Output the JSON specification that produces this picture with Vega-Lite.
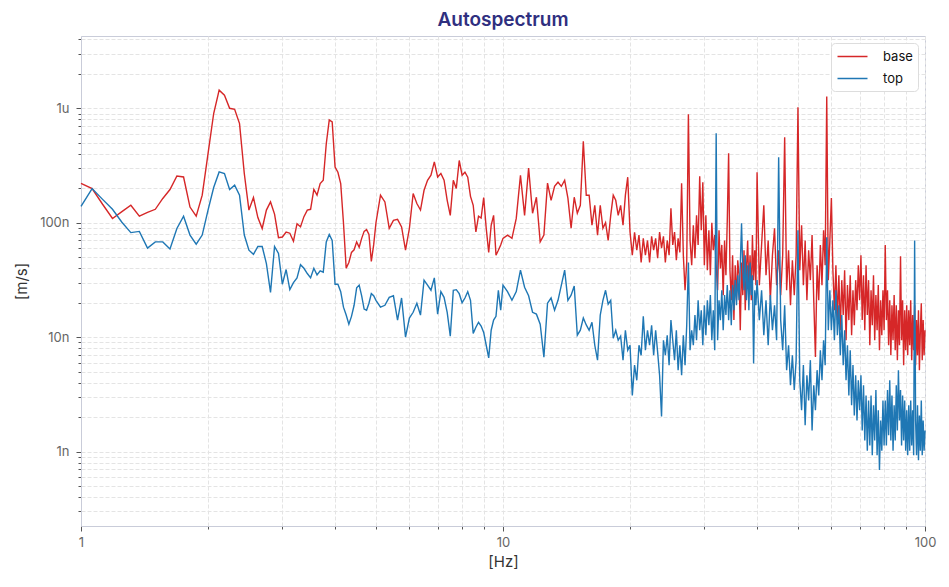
{
"$schema":"https://vega.github.io/schema/vega-lite/v6.json",
"width":844,"height":490,
"autosize":{"type":"none"},
"padding":{"left":81,"top":36,"right":24,"bottom":61},
"background":"white",
"config":{"view":{"stroke":"#c9ccd9","strokeWidth":1},"font":"Inter"},
"title":{"text":"Autospectrum","fontSize":19,"font":"Inter","fontWeight":600,"color":"#2f2f7f","offset":3,"anchor":"middle"},
"data":{"values":[
{"f":1,"base":2.21e-7,"top":1.39e-7},
{"f":1.0625,"base":1.99e-7,"top":1.99e-7},
{"f":1.125,"base":1.45e-7,"top":1.6e-7},
{"f":1.1875,"base":1.09e-7,"top":1.31e-7},
{"f":1.25,"base":1.25e-7,"top":1.01e-7},
{"f":1.3125,"base":1.42e-7,"top":8.2e-8},
{"f":1.375,"base":1.14e-7,"top":8.4e-8},
{"f":1.4375,"base":1.23e-7,"top":6.0e-8},
{"f":1.5,"base":1.31e-7,"top":6.8e-8},
{"f":1.5625,"base":1.63e-7,"top":6.8e-8},
{"f":1.625,"base":1.95e-7,"top":5.9e-8},
{"f":1.6875,"base":2.56e-7,"top":8.9e-8},
{"f":1.75,"base":2.51e-7,"top":1.14e-7},
{"f":1.8125,"base":1.37e-7,"top":7.8e-8},
{"f":1.875,"base":1.14e-7,"top":6.5e-8},
{"f":1.9375,"base":1.74e-7,"top":7.8e-8},
{"f":2,"base":4.02e-7,"top":1.29e-7},
{"f":2.0625,"base":9.0e-7,"top":2.03e-7},
{"f":2.125,"base":1.44e-6,"top":2.78e-7},
{"f":2.1875,"base":1.30e-6,"top":2.69e-7},
{"f":2.25,"base":1.0e-6,"top":1.95e-7},
{"f":2.3125,"base":9.8e-7,"top":2.13e-7},
{"f":2.375,"base":7.35e-7,"top":1.74e-7},
{"f":2.4375,"base":2.69e-7,"top":7.8e-8},
{"f":2.5,"base":1.29e-7,"top":5.75e-8},
{"f":2.5625,"base":1.66e-7,"top":5.3e-8},
{"f":2.625,"base":1.11e-7,"top":6.2e-8},
{"f":2.6875,"base":8.9e-8,"top":6.2e-8},
{"f":2.75,"base":1.29e-7,"top":4.4e-8},
{"f":2.8125,"base":1.52e-7,"top":2.46e-8},
{"f":2.875,"base":1.19e-7,"top":6.2e-8},
{"f":2.9375,"base":7.4e-8,"top":5.4e-8},
{"f":3,"base":7.5e-8,"top":2.9e-8},
{"f":3.0625,"base":8.3e-8,"top":3.9e-8},
{"f":3.125,"base":8.1e-8,"top":2.6e-8},
{"f":3.1875,"base":6.9e-8,"top":3.0e-8},
{"f":3.25,"base":9.8e-8,"top":3.3e-8},
{"f":3.3125,"base":9.2e-8,"top":4.3e-8},
{"f":3.375,"base":1.13e-7,"top":4.0e-8},
{"f":3.4375,"base":1.29e-7,"top":3.6e-8},
{"f":3.5,"base":1.31e-7,"top":3.3e-8},
{"f":3.5625,"base":1.96e-7,"top":4.0e-8},
{"f":3.625,"base":1.74e-7,"top":3.5e-8},
{"f":3.6875,"base":2.2e-7,"top":3.8e-8},
{"f":3.75,"base":2.35e-7,"top":3.7e-8},
{"f":3.8125,"base":4.9e-7,"top":6.8e-8},
{"f":3.875,"base":7.9e-7,"top":7.9e-8},
{"f":3.9375,"base":7.6e-7,"top":7.0e-8},
{"f":4,"base":3.07e-7,"top":2.9e-8},
{"f":4.0625,"base":2.76e-7,"top":2.9e-8},
{"f":4.125,"base":2.2e-7,"top":2.5e-8},
{"f":4.1875,"base":1.0e-7,"top":1.83e-8},
{"f":4.25,"base":4.0e-8,"top":1.56e-8},
{"f":4.3125,"base":4.5e-8,"top":1.3e-8},
{"f":4.375,"base":5.5e-8,"top":1.52e-8},
{"f":4.4375,"base":5.8e-8,"top":1.9e-8},
{"f":4.5,"base":6.8e-8,"top":2.7e-8},
{"f":4.5625,"base":6.1e-8,"top":2.85e-8},
{"f":4.625,"base":7.3e-8,"top":2.3e-8},
{"f":4.6875,"base":8.4e-8,"top":1.76e-8},
{"f":4.75,"base":8.7e-8,"top":1.72e-8},
{"f":4.8125,"base":7.9e-8,"top":1.98e-8},
{"f":4.875,"base":4.6e-8,"top":2.4e-8},
{"f":4.9375,"base":6.4e-8,"top":2.3e-8},
{"f":5,"base":1.0e-7,"top":2.1e-8},
{"f":5.125,"base":1.74e-7,"top":1.83e-8},
{"f":5.25,"base":1.52e-7,"top":1.9e-8},
{"f":5.375,"base":8.95e-8,"top":2.23e-8},
{"f":5.5,"base":1.05e-7,"top":2.3e-8},
{"f":5.625,"base":1.07e-7,"top":1.41e-8},
{"f":5.75,"base":9.2e-8,"top":2.2e-8},
{"f":5.875,"base":5.75e-8,"top":1.0e-8},
{"f":6,"base":8.9e-8,"top":1.47e-8},
{"f":6.125,"base":1.8e-7,"top":1.65e-8},
{"f":6.25,"base":1.47e-7,"top":1.98e-8},
{"f":6.375,"base":1.29e-7,"top":1.56e-8},
{"f":6.5,"base":1.92e-7,"top":3.15e-8},
{"f":6.625,"base":2.35e-7,"top":2.85e-8},
{"f":6.75,"base":2.6e-7,"top":2.57e-8},
{"f":6.875,"base":3.4e-7,"top":3.3e-8},
{"f":7,"base":2.51e-7,"top":1.59e-8},
{"f":7.125,"base":2.69e-7,"top":2.5e-8},
{"f":7.25,"base":2.35e-7,"top":2.23e-8},
{"f":7.375,"base":1.57e-7,"top":1.65e-8},
{"f":7.5,"base":1.16e-7,"top":1.02e-8},
{"f":7.625,"base":2.35e-7,"top":2.57e-8},
{"f":7.75,"base":1.99e-7,"top":2.6e-8},
{"f":7.875,"base":3.5e-7,"top":2.4e-8},
{"f":8,"base":2.6e-7,"top":2.0e-8},
{"f":8.125,"base":2.76e-7,"top":2.2e-8},
{"f":8.25,"base":2.5e-7,"top":2.5e-8},
{"f":8.375,"base":1.7e-7,"top":2.1e-8},
{"f":8.5,"base":1.42e-7,"top":1.08e-8},
{"f":8.625,"base":8.3e-8,"top":1.22e-8},
{"f":8.75,"base":1.14e-7,"top":1.35e-8},
{"f":8.875,"base":1.1e-7,"top":1.25e-8},
{"f":9,"base":1.66e-7,"top":1.1e-8},
{"f":9.125,"base":8.95e-8,"top":8.5e-9},
{"f":9.25,"base":5.5e-8,"top":6.6e-9},
{"f":9.375,"base":9.5e-8,"top":1.15e-8},
{"f":9.5,"base":1.16e-7,"top":1.41e-8},
{"f":9.625,"base":5.2e-8,"top":1.52e-8},
{"f":9.75,"base":5.75e-8,"top":2.57e-8},
{"f":9.875,"base":6.4e-8,"top":1.72e-8},
{"f":10,"base":7.3e-8,"top":2.85e-8},
{"f":10.25,"base":7.8e-8,"top":2.5e-8},
{"f":10.5,"base":7.3e-8,"top":2.1e-8},
{"f":10.75,"base":1.09e-7,"top":2.5e-8},
{"f":11,"base":2.6e-7,"top":3.85e-8},
{"f":11.25,"base":1.16e-7,"top":2.73e-8},
{"f":11.5,"base":3.0e-7,"top":2.3e-8},
{"f":11.75,"base":1.21e-7,"top":1.65e-8},
{"f":12,"base":1.67e-7,"top":1.59e-8},
{"f":12.25,"base":6.8e-8,"top":1.3e-8},
{"f":12.5,"base":7.8e-8,"top":6.7e-9},
{"f":12.75,"base":2.22e-7,"top":1.98e-8},
{"f":13,"base":1.57e-7,"top":2.2e-8},
{"f":13.25,"base":2.08e-7,"top":1.72e-8},
{"f":13.5,"base":2.26e-7,"top":2.1e-8},
{"f":13.75,"base":2.08e-7,"top":2.85e-8},
{"f":14,"base":2.35e-7,"top":3.85e-8},
{"f":14.25,"base":1.64e-7,"top":2.1e-8},
{"f":14.5,"base":8.95e-8,"top":2.33e-8},
{"f":14.75,"base":1.67e-7,"top":2.8e-8},
{"f":15,"base":1.21e-7,"top":1.04e-8},
{"f":15.25,"base":1.42e-7,"top":1.15e-8},
{"f":15.5,"base":5.15e-7,"top":1.47e-8},
{"f":15.75,"base":1.74e-7,"top":1.28e-8},
{"f":16,"base":1.74e-7,"top":1.15e-8},
{"f":16.25,"base":9.5e-8,"top":1.35e-8},
{"f":16.5,"base":1.42e-7,"top":8.5e-9},
{"f":16.75,"base":7.8e-8,"top":6.3e-9},
{"f":17,"base":1.42e-7,"top":1.56e-8},
{"f":17.25,"base":8.95e-8,"top":2.1e-8},
{"f":17.5,"base":1.0e-7,"top":2.57e-8},
{"f":17.75,"base":7.0e-8,"top":1.94e-8},
{"f":18,"base":1.16e-7,"top":2.1e-8},
{"f":18.25,"base":1.74e-7,"top":9.8e-9},
{"f":18.5,"base":1.57e-7,"top":1.15e-8},
{"f":18.75,"base":1.16e-7,"top":9.4e-9},
{"f":19,"base":1.42e-7,"top":1.02e-8},
{"f":19.25,"base":9.5e-8,"top":6.3e-9},
{"f":19.5,"base":1.74e-7,"top":1.15e-8},
{"f":19.75,"base":2.5e-7,"top":7.7e-9},
{"f":20,"base":8.3e-8,"top":8.5e-9},
{"f":20.25,"base":5.2e-8,"top":3.1e-9},
{"f":20.5,"base":8.26e-8,"top":5.7e-9},
{"f":20.75,"base":5.75e-8,"top":4.2e-9},
{"f":21,"base":7.8e-8,"top":8.5e-9},
{"f":21.25,"base":4.5e-8,"top":6.95e-9},
{"f":21.5,"base":7.3e-8,"top":1.52e-8},
{"f":21.75,"base":5.2e-8,"top":7.7e-9},
{"f":22,"base":7.0e-8,"top":1.15e-8},
{"f":22.25,"base":4.5e-8,"top":8.5e-9},
{"f":22.5,"base":7.6e-8,"top":1.27e-8},
{"f":22.75,"base":5.75e-8,"top":6.95e-9},
{"f":23,"base":7.3e-8,"top":1.15e-8},
{"f":23.25,"base":4.9e-8,"top":7.4e-9},
{"f":23.5,"base":8.3e-8,"top":4.65e-9},
{"f":23.75,"base":6.0e-8,"top":2.03e-9},
{"f":24,"base":7.6e-8,"top":9.4e-9},
{"f":24.25,"base":4.5e-8,"top":6.95e-9},
{"f":24.5,"base":7.0e-8,"top":1.04e-8},
{"f":24.75,"base":5.2e-8,"top":5.7e-9},
{"f":25,"base":1.34e-7,"top":1.41e-8},
{"f":25.25,"base":6.4e-8,"top":9.4e-9},
{"f":25.5,"base":8.3e-8,"top":6.3e-9},
{"f":25.75,"base":4.7e-8,"top":1.15e-8},
{"f":26,"base":7.3e-8,"top":5.15e-9},
{"f":26.25,"base":5.5e-8,"top":8.5e-9},
{"f":26.5,"base":2.21e-7,"top":4.65e-9},
{"f":26.75,"base":5.2e-8,"top":1.04e-8},
{"f":27,"base":2.57e-8,"top":5.7e-9},
{"f":27.25,"base":4.5e-8,"top":1.27e-8},
{"f":27.5,"base":8.86e-7,"top":4.5e-8},
{"f":27.75,"base":7.0e-8,"top":7.7e-9},
{"f":28,"base":4.25e-8,"top":1.15e-8},
{"f":28.25,"base":9.5e-8,"top":8.5e-9},
{"f":28.5,"base":4.9e-8,"top":1.56e-8},
{"f":28.75,"base":1.16e-7,"top":9.4e-9},
{"f":29,"base":6.4e-8,"top":2.1e-8},
{"f":29.25,"base":2.55e-7,"top":1.15e-8},
{"f":29.5,"base":8.6e-8,"top":1.72e-8},
{"f":29.75,"base":2.26e-7,"top":8.5e-9},
{"f":30,"base":4.25e-8,"top":1.9e-8},
{"f":30.25,"base":1.16e-7,"top":1.04e-8},
{"f":30.5,"base":3.85e-8,"top":2.1e-8},
{"f":30.75,"base":8.6e-8,"top":1.27e-8},
{"f":31,"base":3.48e-8,"top":2.33e-8},
{"f":31.25,"base":1.0e-7,"top":9.4e-9},
{"f":31.5,"base":5.75e-8,"top":1.72e-8},
{"f":31.75,"base":7.8e-8,"top":7.7e-9},
{"f":32,"base":4.25e-8,"top":6.05e-7},
{"f":32.25,"base":2.57e-8,"top":9.4e-9},
{"f":32.5,"base":8.6e-8,"top":2.1e-8},
{"f":32.75,"base":3.98e-8,"top":1.41e-8},
{"f":33,"base":6.4e-8,"top":2.57e-8},
{"f":33.25,"base":2.33e-8,"top":1.15e-8},
{"f":33.5,"base":7.0e-8,"top":2.33e-8},
{"f":33.75,"base":3.48e-8,"top":1.56e-8},
{"f":34,"base":1.05e-7,"top":2.85e-8},
{"f":34.25,"base":4.05e-7,"top":1.41e-8},
{"f":34.5,"base":3.85e-8,"top":2.57e-8},
{"f":34.75,"base":2.1e-8,"top":1.27e-8},
{"f":35,"base":5.2e-8,"top":2.85e-8},
{"f":35.25,"base":1.41e-8,"top":1.72e-8},
{"f":35.5,"base":4.25e-8,"top":3.15e-8},
{"f":35.75,"base":2.1e-8,"top":1.9e-8},
{"f":36,"base":4.7e-8,"top":3.48e-8},
{"f":36.25,"base":3.48e-8,"top":2.1e-8},
{"f":36.5,"base":1.15e-8,"top":4.25e-8},
{"f":36.75,"base":4.5e-8,"top":9.9e-8},
{"f":37,"base":2.33e-8,"top":3.85e-8},
{"f":37.25,"base":5.75e-8,"top":2.57e-8},
{"f":37.5,"base":1.72e-8,"top":5.2e-8},
{"f":37.75,"base":3.98e-8,"top":2.1e-8},
{"f":38,"base":7.0e-8,"top":4.25e-8},
{"f":38.25,"base":2.57e-8,"top":1.72e-8},
{"f":38.5,"base":5.2e-8,"top":4.5e-8},
{"f":38.75,"base":2.1e-8,"top":2.33e-8},
{"f":39,"base":7.8e-8,"top":3.48e-8},
{"f":39.25,"base":3.15e-8,"top":5.9e-9},
{"f":39.5,"base":5.75e-8,"top":2.57e-8},
{"f":39.75,"base":2.85e-8,"top":1.9e-8},
{"f":40,"base":2.76e-7,"top":3.15e-8},
{"f":40.5,"base":2.85e-8,"top":1.41e-8},
{"f":41,"base":6.4e-8,"top":2.57e-8},
{"f":41.5,"base":1.42e-7,"top":1.04e-8},
{"f":42,"base":3.48e-8,"top":2.1e-8},
{"f":42.5,"base":7.0e-8,"top":8.5e-9},
{"f":43,"base":2.1e-8,"top":2.33e-8},
{"f":43.5,"base":5.2e-8,"top":1.15e-8},
{"f":44,"base":8.95e-8,"top":1.9e-8},
{"f":44.5,"base":2.85e-8,"top":9.4e-9},
{"f":45,"base":5.75e-8,"top":3.73e-7},
{"f":45.5,"base":2.33e-8,"top":1.41e-8},
{"f":46,"base":5.2e-8,"top":7.7e-9},
{"f":46.5,"base":5.58e-7,"top":1.9e-8},
{"f":47,"base":2.57e-8,"top":5.15e-9},
{"f":47.5,"base":5.75e-8,"top":8.5e-9},
{"f":48,"base":1.9e-8,"top":3.8e-9},
{"f":48.5,"base":4.7e-8,"top":6.95e-9},
{"f":49,"base":2.33e-8,"top":3.45e-9},
{"f":49.5,"base":5.2e-8,"top":6.3e-9},
{"f":50,"base":1.02e-6,"top":8.6e-8},
{"f":50.5,"base":3.85e-8,"top":4.2e-9},
{"f":51,"base":9.5e-8,"top":2.3e-9},
{"f":51.5,"base":2.85e-8,"top":5.7e-9},
{"f":52,"base":7.0e-8,"top":1.7e-9},
{"f":52.5,"base":2.1e-8,"top":4.65e-9},
{"f":53,"base":5.75e-8,"top":2.8e-9},
{"f":53.5,"base":3.15e-8,"top":6.3e-9},
{"f":54,"base":7.8e-8,"top":1.53e-9},
{"f":54.5,"base":2.1e-8,"top":3.8e-9},
{"f":55,"base":6.7e-9,"top":2.3e-9},
{"f":55.5,"base":4.25e-8,"top":5.15e-9},
{"f":56,"base":2.1e-8,"top":3.1e-9},
{"f":56.5,"base":6.4e-8,"top":7.7e-9},
{"f":57,"base":2.85e-8,"top":4.2e-9},
{"f":57.5,"base":8.6e-8,"top":9.4e-9},
{"f":58,"base":4.25e-8,"top":5.7e-9},
{"f":58.5,"base":1.27e-6,"top":7.45e-8},
{"f":59,"base":3.15e-8,"top":1.15e-8},
{"f":59.5,"base":7.0e-8,"top":2.57e-8},
{"f":60,"base":1.64e-7,"top":1.15e-8},
{"f":60.5,"base":3.85e-8,"top":2.1e-8},
{"f":61,"base":1.72e-8,"top":9.4e-9},
{"f":61.5,"base":4.25e-8,"top":2.57e-8},
{"f":62,"base":1.41e-8,"top":1.04e-8},
{"f":62.5,"base":3.48e-8,"top":1.9e-8},
{"f":63,"base":1.15e-8,"top":6.95e-9},
{"f":63.5,"base":3.15e-8,"top":1.56e-8},
{"f":64,"base":1.56e-8,"top":5.7e-9},
{"f":64.5,"base":3.85e-8,"top":1.15e-8},
{"f":65,"base":9.4e-9,"top":4.2e-9},
{"f":65.5,"base":2.85e-8,"top":8.5e-9},
{"f":66,"base":1.41e-8,"top":3.1e-9},
{"f":66.5,"base":3.48e-8,"top":7.7e-9},
{"f":67,"base":1.04e-8,"top":2.54e-9},
{"f":67.5,"base":2.57e-8,"top":5.7e-9},
{"f":68,"base":1.27e-8,"top":2.07e-9},
{"f":68.5,"base":3.15e-8,"top":4.65e-9},
{"f":69,"base":1.72e-8,"top":1.87e-9},
{"f":69.5,"base":4.25e-8,"top":4.2e-9},
{"f":70,"base":2.1e-8,"top":2.3e-9},
{"f":70.5,"base":5.2e-8,"top":4.65e-9},
{"f":71,"base":1.41e-8,"top":1.53e-9},
{"f":71.5,"base":3.48e-8,"top":3.8e-9},
{"f":72,"base":1.15e-8,"top":1.25e-9},
{"f":72.5,"base":4.25e-8,"top":3.1e-9},
{"f":73,"base":1.56e-8,"top":1.02e-9},
{"f":73.5,"base":3.15e-8,"top":2.8e-9},
{"f":74,"base":8.5e-9,"top":1.13e-9},
{"f":74.5,"base":2.57e-8,"top":3.1e-9},
{"f":75,"base":1.27e-8,"top":9.3e-10},
{"f":75.5,"base":3.48e-8,"top":2.54e-9},
{"f":76,"base":9.4e-9,"top":1.25e-9},
{"f":76.5,"base":2.33e-8,"top":3.45e-9},
{"f":77,"base":1.15e-8,"top":9.3e-10},
{"f":77.5,"base":2.85e-8,"top":2.3e-9},
{"f":78,"base":7.7e-9,"top":6.9e-10},
{"f":78.5,"base":2.1e-8,"top":1.87e-9},
{"f":79,"base":1.04e-8,"top":1.02e-9},
{"f":79.5,"base":2.57e-8,"top":2.8e-9},
{"f":80,"base":1.15e-8,"top":1.13e-9},
{"f":80.5,"base":6.4e-8,"top":2.8e-9},
{"f":81,"base":1.41e-8,"top":1.13e-9},
{"f":81.5,"base":2.57e-8,"top":3.45e-9},
{"f":82,"base":8.5e-9,"top":1.39e-9},
{"f":82.5,"base":2.1e-8,"top":4.2e-9},
{"f":83,"base":6.95e-9,"top":1.25e-9},
{"f":83.5,"base":1.9e-8,"top":3.1e-9},
{"f":84,"base":9.4e-9,"top":1.02e-9},
{"f":84.5,"base":2.33e-8,"top":2.54e-9},
{"f":85,"base":7.7e-9,"top":1.25e-9},
{"f":85.5,"base":1.9e-8,"top":3.8e-9},
{"f":86,"base":6.3e-9,"top":1.53e-9},
{"f":86.5,"base":1.72e-8,"top":5.15e-9},
{"f":87,"base":8.5e-9,"top":1.87e-9},
{"f":87.5,"base":5.1e-8,"top":3.45e-9},
{"f":88,"base":9.4e-9,"top":1.13e-9},
{"f":88.5,"base":2.1e-8,"top":3.1e-9},
{"f":89,"base":5.7e-9,"top":1.25e-9},
{"f":89.5,"base":1.72e-8,"top":2.8e-9},
{"f":90,"base":7.7e-9,"top":1.02e-9},
{"f":90.5,"base":1.9e-8,"top":2.3e-9},
{"f":91,"base":6.95e-9,"top":9.3e-10},
{"f":91.5,"base":1.72e-8,"top":2.54e-9},
{"f":92,"base":8.5e-9,"top":1.02e-9},
{"f":92.5,"base":2.1e-8,"top":2.8e-9},
{"f":93,"base":6.3e-9,"top":1.13e-9},
{"f":93.5,"base":1.56e-8,"top":2.3e-9},
{"f":94,"base":7.7e-9,"top":9.3e-10},
{"f":94.5,"base":1.9e-8,"top":7.0e-8},
{"f":95,"base":5.7e-9,"top":1.87e-9},
{"f":95.5,"base":1.41e-8,"top":9.3e-10},
{"f":96,"base":6.95e-9,"top":2.54e-9},
{"f":96.5,"base":1.72e-8,"top":8.4e-10},
{"f":97,"base":5.15e-9,"top":2.07e-9},
{"f":97.5,"base":1.15e-8,"top":1.02e-9},
{"f":98,"base":1.98e-8,"top":2.8e-9},
{"f":98.5,"base":6.3e-9,"top":9.3e-10},
{"f":99,"base":1.41e-8,"top":1.87e-9},
{"f":99.5,"base":6.95e-9,"top":1.02e-9},
{"f":100,"base":1.15e-8,"top":1.53e-9}
]},
"transform":[{"fold":["base","top"],"as":["series","value"]}],
"mark":{"type":"line","strokeWidth":1.4},
"encoding":{
"x":{"field":"f","type":"quantitative","scale":{"type":"log","domain":[1,100],"nice":false},
 "axis":{"title":"[Hz]","titleFont":"Inter","titleFontSize":15,"titleFontWeight":"normal","titleColor":"#333333","titlePadding":5,
 "values":[1,2,3,4,5,6,7,8,9,10,20,30,40,50,60,70,80,90,100],
 "labelExpr":"(datum.value==1||datum.value==10||datum.value==100) ? ''+datum.value : ''",
 "labelFont":"Inter","labelFontSize":13,"labelColor":"#666666","labelPadding":5,"labelFlush":false,"labelOverlap":false,
 "tickColor":"#555555","tickSize":{"condition":{"test":"datum.value==1||datum.value==10||datum.value==100","value":5},"value":3},
 "domainColor":"#c9ccd9","grid":true,"gridColor":"#e4e4e4","gridDash":[4,2],"gridWidth":1}},
"y":{"field":"value","type":"quantitative","scale":{"type":"log","domain":[2.24e-10,4.28e-6],"nice":false},
 "axis":{"title":"[m/s]","titleFont":"Inter","titleFontSize":15,"titleFontWeight":"normal","titleColor":"#333333","titlePadding":10,
 "values":[3e-10,4e-10,5e-10,6e-10,7e-10,8e-10,9e-10,1e-9,2e-9,3e-9,4e-9,5e-9,6e-9,7e-9,8e-9,9e-9,1e-8,2e-8,3e-8,4e-8,5e-8,6e-8,7e-8,8e-8,9e-8,1e-7,2e-7,3e-7,4e-7,5e-7,6e-7,7e-7,8e-7,9e-7,1e-6,2e-6,3e-6,4e-6],
 "labelExpr":"datum.value==1e-6 ? '1u' : datum.value==1e-7 ? '100n' : datum.value==1e-8 ? '10n' : datum.value==1e-9 ? '1n' : ''",
 "labelFont":"Inter","labelFontSize":13,"labelColor":"#666666","labelPadding":7,"labelOverlap":false,
 "tickColor":"#555555","tickSize":{"condition":{"test":"datum.value==1e-6||datum.value==1e-7||datum.value==1e-8||datum.value==1e-9","value":5},"value":3},
 "domainColor":"#c9ccd9","grid":true,"gridColor":"#e4e4e4","gridDash":[4,2],"gridWidth":1}},
"color":{"field":"series","type":"nominal","scale":{"domain":["base","top"],"range":["#d62728","#1f77b4"]},
 "legend":{"title":null,"orient":"top-right","offset":7,"padding":5,"strokeColor":"#dddddd","fillColor":"white","cornerRadius":4,
 "symbolType":"M-2,0L2,0","symbolSize":225,"symbolOffset":8,"symbolStrokeWidth":1.5,"labelFont":"Inter","labelFontSize":13,"labelColor":"#111111","labelOffset":22,"rowPadding":6}}
}
}
